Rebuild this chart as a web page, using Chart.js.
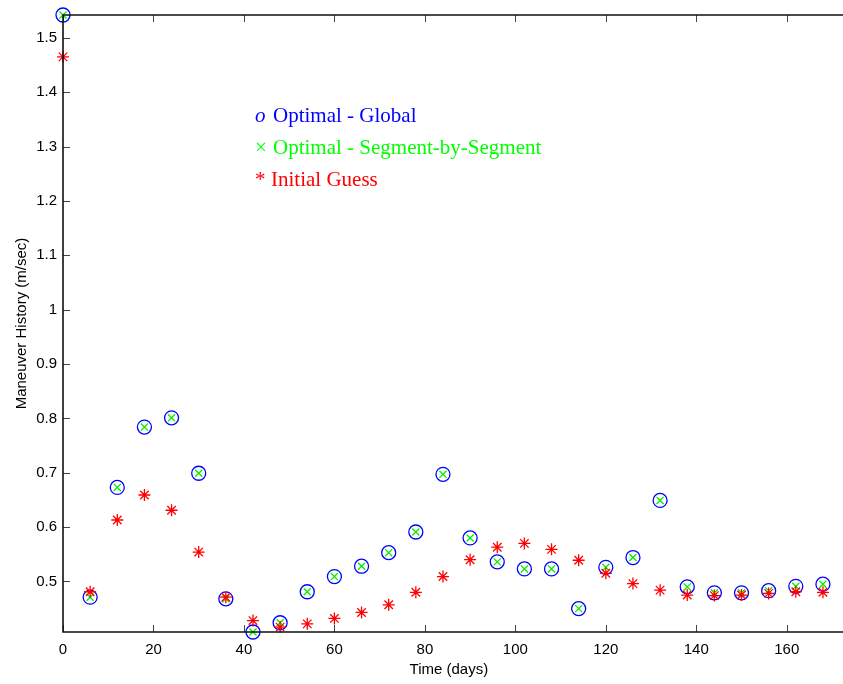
<!DOCTYPE html>
<html>
<head>
<meta charset="utf-8">
<script src="https://cdn.jsdelivr.net/npm/chart.js@4.4.1/dist/chart.umd.min.js"></script>
<style>
  html, body { margin: 0; padding: 0; background: #fff; }
  #wrap { width: 843px; height: 684px; position: relative; }
</style>
</head>
<body>
<div id="wrap"><canvas id="maneuverChart"></canvas></div>
<script>
// maneuver epochs (days)
var days = [0, 6, 12, 18, 24, 30, 36, 42, 48, 54, 60, 66, 72, 78, 84, 90, 96, 102, 108, 114, 120, 126, 132, 138, 144, 150, 156, 162, 168];

// optimal - global (m/sec)
var globalOpt = [1.542, 0.471, 0.673, 0.784, 0.801, 0.699, 0.468, 0.407, 0.424, 0.481, 0.509, 0.528, 0.553, 0.591, 0.697, 0.580, 0.536, 0.523, 0.523, 0.450, 0.526, 0.544, 0.649, 0.490, 0.479, 0.479, 0.483, 0.491, 0.495];

// optimal - segment by segment (same as global, markers overlap)
var segmentOpt = [1.542, 0.471, 0.673, 0.784, 0.801, 0.699, 0.468, 0.407, 0.424, 0.481, 0.509, 0.528, 0.553, 0.591, 0.697, 0.580, 0.536, 0.523, 0.523, 0.450, 0.526, 0.544, 0.649, 0.490, 0.479, 0.479, 0.483, 0.491, 0.495];

// initial guess
var initialGuess = [1.465, 0.481, 0.613, 0.659, 0.631, 0.554, 0.471, 0.428, 0.416, 0.422, 0.432, 0.443, 0.457, 0.480, 0.509, 0.540, 0.563, 0.570, 0.559, 0.539, 0.515, 0.496, 0.484, 0.475, 0.474, 0.475, 0.478, 0.481, 0.480];

var xTicks = [0, 20, 40, 60, 80, 100, 120, 140, 160];
var yTicks = [0.5, 0.6, 0.7, 0.8, 0.9, 1, 1.1, 1.2, 1.3, 1.4, 1.5];

var legendLines = [
    { sym: 'o', text: 'Optimal - Global', color: '#0000ff', italic: true },
    { sym: '\u00d7', text: 'Optimal - Segment-by-Segment', color: '#00ff00' },
    { sym: '*', text: 'Initial Guess', color: '#ff0000' }
];

function toPoints(vals) {
    return days.map(function (d, i) { return { x: d, y: vals[i] }; });
}

// frame (left, top, bottom - the right side is cut off), inward ticks, text legend
var framePlugin = {
    id: 'frame',
    afterDraw: function (chart) {
        var ctx = chart.ctx;
        var a = chart.chartArea;
        var xs = chart.scales.x, ys = chart.scales.y;
        var w = chart.width;
        ctx.save();
        ctx.strokeStyle = '#444';
        ctx.lineWidth = 1;
        ctx.beginPath();
        xTicks.forEach(function (t) {
            var px = Math.round(xs.getPixelForValue(t)) + 0.5;
            ctx.moveTo(px, a.bottom); ctx.lineTo(px, a.bottom - 7);
            ctx.moveTo(px, a.top); ctx.lineTo(px, a.top + 7);
        });
        yTicks.forEach(function (t) {
            var py = Math.round(ys.getPixelForValue(t)) + 0.5;
            ctx.moveTo(a.left, py); ctx.lineTo(a.left + 7, py);
        });
        ctx.stroke();

        ctx.strokeStyle = '#111';
        ctx.lineWidth = 1.6;
        ctx.beginPath();
        ctx.moveTo(w, a.top); ctx.lineTo(a.left, a.top);
        ctx.lineTo(a.left, a.bottom); ctx.lineTo(w, a.bottom);
        ctx.stroke();

        // legend text
        ctx.textBaseline = 'alphabetic';
        ctx.textAlign = 'left';
        legendLines.forEach(function (l, i) {
            var y = 122 + i * 32;
            ctx.fillStyle = l.color;
            ctx.font = (l.italic ? 'italic ' : '') + '21px "Liberation Serif", "Times New Roman", serif';
            ctx.fillText(l.sym, 255, y);
            ctx.font = '21px "Liberation Serif", "Times New Roman", serif';
            ctx.fillText(l.text, i === 2 ? 271 : 273, y);
        });
        ctx.restore();
    }
};

var ctx = document.getElementById('maneuverChart').getContext('2d');
var chart = new Chart(ctx, {
    type: 'scatter',
    data: {
        datasets: [
            {
                label: 'Optimal - Global',
                data: toPoints(globalOpt),
                pointStyle: 'circle',
                pointRadius: 7,
                borderColor: '#0000ff',
                backgroundColor: 'rgba(0,0,0,0)',
                borderWidth: 1.3,
                clip: false,
                order: 3
            },
            {
                label: 'Optimal - Segment-by-Segment',
                data: toPoints(segmentOpt),
                pointStyle: 'crossRot',
                pointRadius: 5,
                borderColor: '#00ee00',
                backgroundColor: '#00ee00',
                borderWidth: 1.3,
                clip: false,
                order: 2
            },
            {
                label: 'Initial Guess',
                data: toPoints(initialGuess),
                pointStyle: 'star',
                pointRadius: 6,
                borderColor: '#ff0000',
                backgroundColor: '#ff0000',
                borderWidth: 1.3,
                clip: false,
                order: 1
            }
        ]
    },
    options: {
        responsive: true,
        maintainAspectRatio: false,
        animation: false,
        layout: { padding: { top: 13, right: 0, left: 0, bottom: 0 } },
        plugins: {
            legend: { display: false },
            tooltip: { enabled: false }
        },
        scales: {
            x: {
                type: 'linear',
                min: 0,
                max: 170.6,
                grid: { display: false, drawTicks: false },
                border: { display: false },
                afterBuildTicks: function (scale) {
                    scale.ticks = xTicks.map(function (v) { return { value: v }; });
                },
                afterFit: function (scale) { scale.height = 52; },
                ticks: {
                    color: '#000',
                    padding: 9,
                    maxRotation: 0,
                    font: { family: '"Liberation Sans", Arial, Helvetica, sans-serif', size: 15 }
                },
                title: {
                    display: true,
                    text: 'Time (days)',
                    color: '#000',
                    padding: { top: 2, bottom: 5 },
                    font: { family: '"Liberation Sans", Arial, Helvetica, sans-serif', size: 15 }
                }
            },
            y: {
                type: 'linear',
                min: 0.407,
                max: 1.542,
                grid: { display: false, drawTicks: false },
                border: { display: false },
                afterBuildTicks: function (scale) {
                    scale.ticks = yTicks.map(function (v) { return { value: v }; });
                },
                afterFit: function (scale) { scale.width = 63; },
                ticks: {
                    color: '#000',
                    padding: 6,
                    font: { family: '"Liberation Sans", Arial, Helvetica, sans-serif', size: 15 },
                    callback: function (v) { return String(Math.round(v * 10) / 10); }
                },
                title: {
                    display: true,
                    text: 'Maneuver History (m/sec)',
                    color: '#000',
                    padding: { top: 13, bottom: 0 },
                    font: { family: '"Liberation Sans", Arial, Helvetica, sans-serif', size: 15 }
                }
            }
        }
    },
    plugins: [framePlugin]
});
</script>
</body>
</html>
